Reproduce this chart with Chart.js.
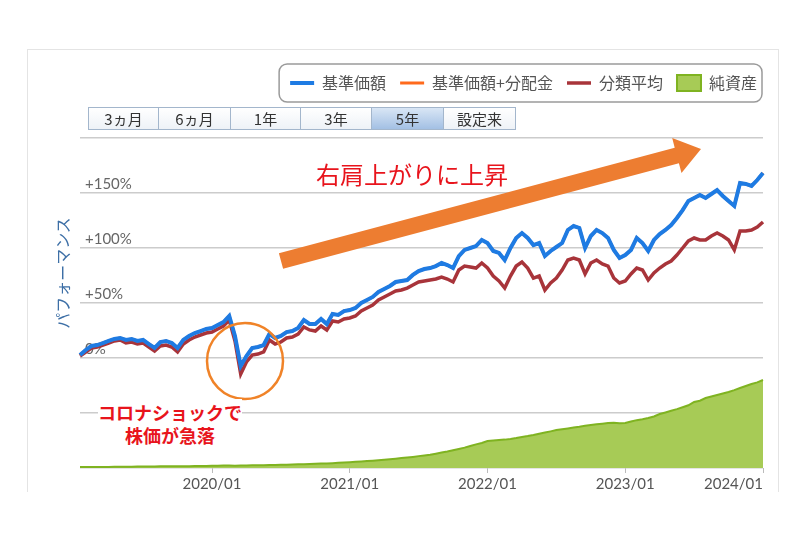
<!DOCTYPE html>
<html lang="ja">
<head>
<meta charset="utf-8">
<script src="https://cdn.jsdelivr.net/npm/chart.js@4.4.1/dist/chart.umd.min.js"></script>
<style>
body { margin: 0; width: 800px; height: 533px; background: #fff; position: relative; overflow: hidden; font-family: 'Noto Sans CJK JP', sans-serif; }
#frame { position: absolute; left: 27px; top: 49px; width: 752px; height: 443px; border: 1px solid #e4e4e4; border-bottom: none; box-sizing: border-box; }
#wrap { position: absolute; left: 27px; top: 49px; width: 752px; height: 443px; }
#btns { position: absolute; left: 89px; top: 107px; display: flex; }
#btns div { box-sizing: border-box; height: 23px; line-height: 21px; border: 1px solid #a3b6cc; margin-left: -1px; text-align: center; font-size: 15px; color: #333; background: linear-gradient(#ffffff, #eef2f7); }
#btns div.on { background: linear-gradient(#d9e6f5, #a3c0e4); }
#ytitle { position: absolute; left: 62px; top: 273px; transform: translate(-50%, -50%) rotate(-90deg); white-space: nowrap; font-size: 16px; color: #3d6fa6; }
#anno { position: absolute; left: 0; top: 0; }
.red { position: absolute; color: #e8141c; white-space: nowrap; }
#rise { left: 316px; top: 156px; font-size: 24px; }
#crash { left: 170px; top: 401px; transform: translateX(-50%); font-size: 18px; font-weight: bold; text-align: center; line-height: 23px; }
#crash span { background: #fff; }
</style>
</head>
<body>
<div id="frame"></div>
<div id="wrap"><canvas id="myChart"></canvas></div>
<div id="btns">
  <div style="width:71px">3ヵ月</div>
  <div style="width:73px">6ヵ月</div>
  <div style="width:71px">1年</div>
  <div style="width:72px">3年</div>
  <div class="on" style="width:73px">5年</div>
  <div style="width:73px">設定来</div>
</div>
<div id="ytitle">パフォーマンス</div>
<svg id="anno" width="800" height="533">
  <polygon points="278.9,253.3 674.7,147.8 672.2,138.1 701,149 681.5,172.9 678.9,163.2 283.1,268.7" fill="#ed7d31"/>
  <circle cx="245" cy="361" r="38" fill="none" stroke="#f08328" stroke-width="2.5"/>
</svg>
<div class="red" id="rise">右肩上がりに上昇</div>
<div class="red" id="crash"><span>コロナショックで</span><br><span>株価が急落</span></div>
<script>
var dates = [
  '2019/01/16',
  '2019/02/01','2019/02/16','2019/03/01','2019/03/16','2019/04/01','2019/04/16','2019/05/01','2019/05/16','2019/06/01','2019/06/16','2019/07/01','2019/07/16',
  '2019/08/01','2019/08/16','2019/09/01','2019/09/16','2019/10/01','2019/10/16','2019/11/01','2019/11/16','2019/12/01','2019/12/16',
  '2020/01/01','2020/01/16','2020/02/01','2020/02/16','2020/03/01','2020/03/16','2020/04/01','2020/04/16','2020/05/01','2020/05/16','2020/06/01','2020/06/16',
  '2020/07/01','2020/07/16','2020/08/01','2020/08/16','2020/09/01','2020/09/16','2020/10/01','2020/10/16','2020/11/01','2020/11/16','2020/12/01','2020/12/16',
  '2021/01/01','2021/01/16','2021/02/01','2021/02/16','2021/03/01','2021/03/16','2021/04/01','2021/04/16','2021/05/01','2021/05/16','2021/06/01','2021/06/16',
  '2021/07/01','2021/07/16','2021/08/01','2021/08/16','2021/09/01','2021/09/16','2021/10/01','2021/10/16','2021/11/01','2021/11/16','2021/12/01','2021/12/16',
  '2022/01/01','2022/01/16','2022/02/01','2022/02/16','2022/03/01','2022/03/16','2022/04/01','2022/04/16','2022/05/01','2022/05/16','2022/06/01','2022/06/16',
  '2022/07/01','2022/07/16','2022/08/01','2022/08/16','2022/09/01','2022/09/16','2022/10/01','2022/10/16','2022/11/01','2022/11/16','2022/12/01','2022/12/16',
  '2023/01/01','2023/01/16','2023/02/01','2023/02/16','2023/03/01','2023/03/16','2023/04/01','2023/04/16','2023/05/01','2023/05/16','2023/06/01','2023/06/16',
  '2023/07/01','2023/07/16','2023/08/01','2023/08/16','2023/09/01','2023/09/16','2023/10/01','2023/10/16','2023/11/01','2023/11/16','2023/12/01','2023/12/16',
  '2024/01/01'
];

// 基準価額 (%)
var basePrice = [
  2.7, 7.3, 10.9, 11.8, 13.6, 15.5, 17.3, 18.2, 16.4, 17.3, 15.5, 16.4, 12.7, 9.1, 14.5, 15.5, 13.6, 9.1, 16.4, 20.0, 22.7, 24.5, 26.4,
  27.3, 30.0, 32.7, 38.2, 20.0, -7.3, 1.8, 9.1, 10.0, 11.8, 21.8, 18.2, 20.0, 23.6, 24.5, 27.3, 34.5, 30.9, 30.9, 35.5, 30.9, 40.0, 39.1, 42.7,
  43.6, 45.5, 50.0, 52.7, 55.5, 60.0, 62.7, 65.5, 69.1, 70.0, 70.9, 75.5, 79.1, 80.9, 81.8, 83.6, 86.4, 84.5, 81.8, 92.7, 98.2, 100.0, 101.8, 107.3,
  104.5, 97.3, 95.5, 89.1, 100.0, 109.1, 113.6, 109.1, 102.7, 104.5, 92.7, 97.3, 100.9, 104.5, 116.4, 120.0, 118.2, 100.0, 110.9, 116.4, 113.6, 109.1, 98.2, 90.9,
  93.6, 98.2, 109.1, 104.5, 97.3, 107.3, 112.7, 116.4, 120.9, 127.3, 134.5, 142.7, 145.5, 148.2, 145.5, 149.1, 152.7, 147.3, 142.7, 138.2, 159.1, 158.2, 156.4, 161.8,
  168.2
];

// 基準価額+分配金 (%) - no distributions, so it sits under the blue line
var priceWithDividends = basePrice.slice();

// 分類平均 (%)
var categoryAvg = [
  1.8, 5.5, 9.1, 10.0, 11.8, 13.6, 15.5, 16.4, 13.6, 14.5, 12.7, 13.6, 10.0, 6.4, 10.9, 11.8, 10.0, 5.5, 12.7, 16.4, 19.1, 20.9, 22.7,
  23.6, 26.4, 29.1, 34.5, 15.5, -14.5, -3.6, 2.7, 3.6, 5.5, 16.4, 12.7, 14.5, 18.2, 19.1, 21.8, 28.2, 25.5, 24.5, 29.1, 25.5, 33.6, 32.7, 35.5,
  36.4, 38.2, 42.7, 45.5, 48.2, 52.7, 55.5, 58.2, 60.9, 61.8, 63.6, 66.4, 69.1, 70.0, 70.9, 71.8, 73.6, 71.8, 69.1, 80.0, 83.6, 82.7, 81.8, 86.4,
  81.8, 74.5, 70.0, 63.6, 74.5, 83.6, 87.3, 81.8, 72.7, 74.5, 61.8, 68.2, 72.7, 80.0, 89.1, 90.9, 89.1, 76.4, 86.4, 89.1, 85.5, 83.6, 72.7, 68.2,
  70.0, 76.4, 81.8, 80.0, 70.9, 77.3, 81.8, 85.5, 88.2, 93.6, 100.0, 106.4, 109.1, 107.3, 107.3, 110.9, 113.6, 110.9, 107.3, 98.2, 115.5, 115.5, 116.4, 119.1,
  123.6
];

// 純資産 (億円)
var netAssets = [
  8, 8, 9, 9, 10, 10, 11, 11, 12, 12, 13, 13,
  14, 14, 15, 15, 16, 16, 17, 17, 18, 18, 19,
  20, 21, 22, 22, 21, 22, 23, 24, 25, 26, 27, 28,
  29, 30, 31, 33, 34, 36, 38, 40, 42, 44, 47, 50,
  53, 56, 59, 63, 67, 71, 75, 80, 85, 90, 95, 101,
  108, 114, 121, 130, 140, 150, 162, 173, 185, 200, 215, 228,
  245, 250, 255, 258, 264, 272, 282, 290, 300, 312, 322, 333,
  345, 352, 360, 368, 375, 384, 391, 398, 403, 409, 412, 406,
  409, 422, 435, 444, 455, 468, 491, 505, 520, 535, 552, 570,
  600, 612, 636, 650, 664, 678, 691, 708, 727, 745, 764, 778, 800
];

var perfTicks = [-100, -50, 0, 50, 100, 150, 200];

// legend sits a bit closer to the right edge, with a rounded frame round it
var legendFrame = {
  id: 'legendFrame',
  afterLayout: function(chart) {
    var lg = chart.legend;
    lg.left += 8;
    lg.right += 8;
    lg.legendHitBoxes.forEach(function(b) { b.left += 8; });
  },
  afterDraw: function(chart) {
    var boxes = chart.legend.legendHitBoxes;
    if (!boxes || !boxes.length) return;
    var l = boxes[0].left - 11;
    var last = boxes[boxes.length - 1];
    var r = last.left + last.width + 5;
    var t = boxes[0].top - 11;
    var b = boxes[0].top + boxes[0].height + 11;
    var ctx = chart.ctx;
    ctx.save();
    ctx.strokeStyle = '#9a9a9a';
    ctx.lineWidth = 1.5;
    ctx.beginPath();
    ctx.roundRect(l, t, r - l, b - t, 8);
    ctx.stroke();
    ctx.restore();
  }
};

function chart() {
  var ctx = document.getElementById('myChart');
  new Chart(ctx, {
    type: 'line',
    data: {
      labels: dates,
      datasets: [
        { label: '基準価額', data: basePrice, borderColor: '#1e7be3', backgroundColor: '#1e7be3', borderWidth: 4, pointRadius: 0, pointStyle: 'line', tension: 0, yAxisID: 'y' },
        { label: '基準価額+分配金', data: priceWithDividends, borderColor: '#ff6a1c', backgroundColor: '#ff6a1c', borderWidth: 3, pointRadius: 0, pointStyle: 'line', tension: 0, yAxisID: 'y' },
        { label: '分類平均', data: categoryAvg, borderColor: '#a8343a', backgroundColor: '#a8343a', borderWidth: 3.5, pointRadius: 0, pointStyle: 'line', tension: 0, yAxisID: 'y' },
        { label: '純資産', data: netAssets, borderColor: '#7fb321', backgroundColor: '#a7cb56', borderWidth: 2, pointRadius: 0, pointStyle: 'rect', tension: 0, fill: 'start', yAxisID: 'y2' }
      ]
    },
    options: {
      responsive: true,
      maintainAspectRatio: false,
      animation: false,
      layout: { padding: { top: 12, right: 16, left: 0, bottom: 0 } },
      plugins: {
        tooltip: { enabled: false },
        legend: {
          position: 'top',
          align: 'end',
          labels: {
            usePointStyle: true,
            pointStyleWidth: 24,
            boxHeight: 16,
            padding: 14,
            color: '#555',
            font: { family: "'Noto Sans CJK JP', sans-serif", size: 16 }
          }
        },
        subtitle: {
          display: true,
          text: ' ',
          weight: 500,
          font: { size: 10 },
          padding: { top: 0, bottom: 25 }
        }
      },
      scales: {
        x: {
          type: 'category',
          border: { display: false },
          grid: {
            display: true, drawOnChartArea: false, drawTicks: true, tickLength: 5,
            color: '#bbbbbb',
            tickColor: function(c) { return c.index === 0 ? 'rgba(0,0,0,0)' : '#bbbbbb'; }
          },
          afterFit: function(s) { s.height = 24; },
          ticks: {
            autoSkip: false,
            maxRotation: 0,
            align: 'inner',
            padding: 2,
            color: '#555',
            font: { family: 'Lato, sans-serif', size: 15 },
            callback: function(v, i) {
              if (i === 0) return '';
              var d = dates[i];
              return d.slice(5) === '01/01' ? d.slice(0, 7) : null;
            }
          }
        },
        y: {
          position: 'left',
          min: perfTicks[0],
          max: perfTicks[perfTicks.length - 1],
          afterFit: function(s) { s.width = 53; },
          afterBuildTicks: function(s) { s.ticks = perfTicks.map(function(v) { return { value: v }; }); },
          border: { display: false },
          grid: { color: '#cccccc', lineWidth: 1.5, drawTicks: false },
          ticks: {
            mirror: true,
            padding: 5,
            labelOffset: -9,
            color: '#666',
            font: { family: 'Lato, sans-serif', size: 15 },
            callback: function(v) {
              if (v === 0) return '0%';
              return (v > 0 && v < 200) ? '+' + v + '%' : '';
            }
          }
        },
        y2: { display: false, min: 0, max: 3000 }
      }
    },
    plugins: [legendFrame]
  });
}

chart();
</script>
</body>
</html>
